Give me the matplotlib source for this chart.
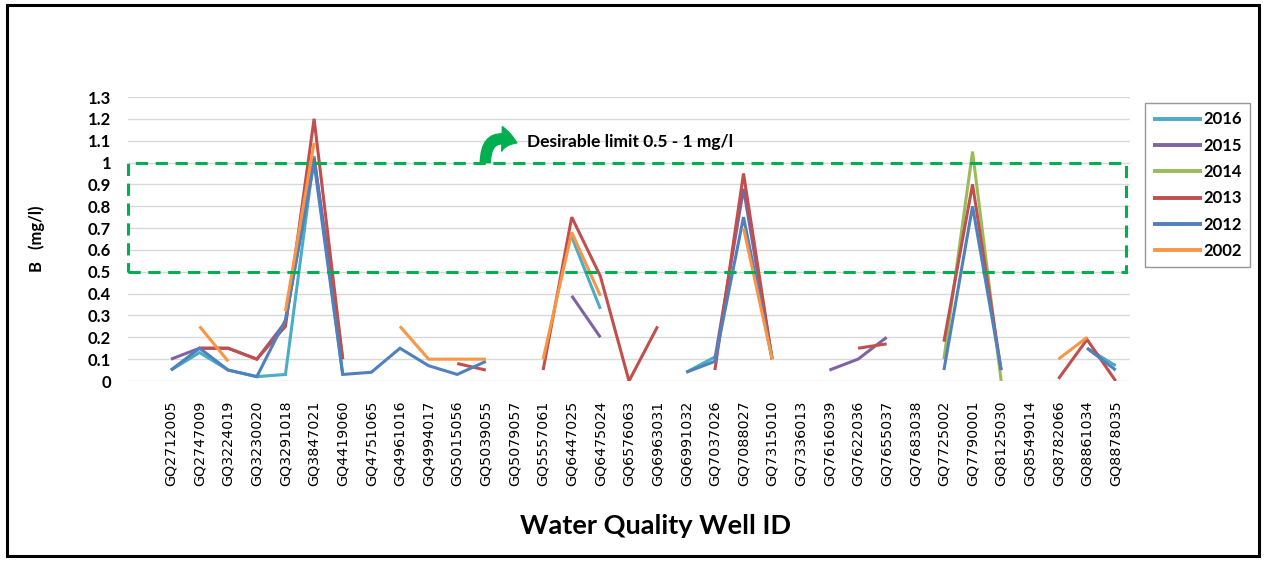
import numpy as np
import matplotlib
matplotlib.use("Agg")
import matplotlib.pyplot as plt
from matplotlib.patches import Rectangle, FancyArrowPatch

nan = np.nan

wells = ["GQ2712005", "GQ2747009", "GQ3224019", "GQ3230020", "GQ3291018",
         "GQ3847021", "GQ4419060", "GQ4751065", "GQ4961016", "GQ4994017",
         "GQ5015056", "GQ5039055", "GQ5079057", "GQ5557061", "GQ6447025",
         "GQ6475024", "GQ6576063", "GQ6963031", "GQ6991032", "GQ7037026",
         "GQ7088027", "GQ7315010", "GQ7336013", "GQ7616039", "GQ7622036",
         "GQ7655037", "GQ7683038", "GQ7725002", "GQ7790001", "GQ8125030",
         "GQ8549014", "GQ8782066", "GQ8861034", "GQ8878035"]

b_2016 = [0.05, 0.13, 0.05, 0.02, 0.03, 1.03, 0.03, nan, nan, nan,
          nan, nan, nan, nan, 0.66, 0.33, nan, nan, 0.04, 0.11,
          nan, nan, nan, nan, nan, nan, nan, nan, nan, nan,
          nan, nan, 0.15, 0.07]
b_2015 = [0.10, 0.15, 0.15, 0.10, 0.27, 1.02, 0.10, nan, nan, nan,
          nan, nan, nan, nan, 0.39, 0.20, nan, nan, nan, 0.10,
          0.88, 0.10, nan, 0.05, 0.10, 0.20, nan, nan, nan, nan,
          nan, nan, nan, nan]
b_2014 = [nan, nan, nan, nan, nan, nan, nan, nan, nan, nan,
          nan, nan, nan, nan, nan, nan, nan, nan, nan, nan,
          nan, nan, nan, nan, nan, nan, nan, 0.10, 1.05, 0.00,
          nan, nan, nan, nan]
b_2013 = [nan, 0.15, 0.15, 0.10, 0.25, 1.20, 0.10, nan, nan, nan,
          0.08, 0.05, nan, 0.05, 0.75, 0.48, 0.00, 0.25, nan, 0.05,
          0.95, 0.10, nan, nan, 0.15, 0.17, nan, 0.18, 0.90, 0.05,
          nan, 0.01, 0.19, 0.00]
b_2012 = [0.05, 0.15, 0.05, 0.02, 0.28, 1.00, 0.03, 0.04, 0.15, 0.07,
          0.03, 0.09, nan, nan, nan, nan, nan, nan, 0.04, 0.09,
          0.75, 0.10, nan, nan, nan, nan, nan, 0.05, 0.80, 0.05,
          nan, nan, 0.15, 0.05]
b_2002 = [nan, 0.25, 0.09, nan, 0.32, 1.09, nan, nan, 0.25, 0.10,
          0.10, 0.10, nan, 0.10, 0.68, 0.39, nan, nan, nan, nan,
          0.70, 0.10, nan, nan, nan, nan, nan, nan, nan, nan,
          nan, 0.10, 0.20, nan]

series = [("2016", b_2016, "#4BACC6"),
          ("2015", b_2015, "#8064A2"),
          ("2014", b_2014, "#9BBB59"),
          ("2013", b_2013, "#C0504D"),
          ("2012", b_2012, "#4F81BD"),
          ("2002", b_2002, "#F79646")]

limit_low, limit_high = 0.5, 1.0
yticks = [round(0.1 * k, 1) for k in range(14)]
ytick_labels = ["0" if v == 0 else ("1" if v == 1 else f"{v:g}") for v in yticks]

bold_font = ["Lato", "DejaVu Sans"]

fig = plt.figure(figsize=(12.68, 5.64), dpi=100)
ax = fig.add_axes([128 / 1268, 1 - 381 / 564, 1002 / 1268, 284 / 564])

x = np.arange(len(wells))
for name, vals, col in series:
    ax.plot(x, np.array(vals, dtype=float), color=col, lw=2.2, label=name,
            solid_capstyle="butt", solid_joinstyle="miter")

ax.set_xlim(-1.5, len(wells) - 0.5)
ax.set_ylim(0, 1.3)
ax.set_yticks(yticks)
ax.set_yticklabels(ytick_labels, fontfamily=bold_font, fontweight="bold",
                   fontsize=12)
ax.set_xticks(x)
ax.set_xticklabels(wells, rotation=90, fontfamily="DejaVu Sans", fontsize=10.3)
ax.tick_params(axis="both", length=0)
ax.tick_params(axis="x", pad=14)
ax.tick_params(axis="y", pad=12)
ax.grid(axis="y", color="#D9D9D9", lw=1.0)
ax.set_axisbelow(True)
for s in ax.spines.values():
    s.set_visible(False)

ax.set_ylabel("B   (mg/l)", fontfamily=bold_font, fontweight="bold", fontsize=12)
ax.yaxis.set_label_coords(-0.083, 0.5)
ax.set_xlabel("Water Quality Well ID", fontfamily=bold_font, fontweight="bold",
              fontsize=19.5)
ax.xaxis.set_label_coords(0.526, -0.47)

# desirable-limit band
ax.add_patch(Rectangle((-1.5, limit_low), 33.36 + 1.5, limit_high - limit_low,
                       fill=False, ec="#00B050", lw=2.2, ls=(0, (4, 2.5)),
                       clip_on=False, zorder=5))
ax.add_patch(FancyArrowPatch((10.98, 1.0), (12.08, 1.09),
                             connectionstyle="arc3,rad=-0.75",
                             arrowstyle="simple,head_length=0.5,head_width=0.8,tail_width=0.33",
                             mutation_scale=22, color="#00B050", clip_on=False,
                             shrinkA=0, shrinkB=0, zorder=6))
ax.text(12.43, 1.094, "Desirable limit 0.5 - 1 mg/l", fontfamily=bold_font,
        fontweight="bold", fontsize=12.5, va="center", ha="left")

leg = fig.legend(loc="upper left", bbox_to_anchor=(1145 / 1268, 1 - 103 / 564),
                 frameon=True, fancybox=False, shadow=False,
                 prop={"family": bold_font, "weight": "bold", "size": 12},
                 handlelength=2.9, handletextpad=0.1, labelspacing=0.62,
                 borderpad=0.5, borderaxespad=0)
leg.get_frame().set_edgecolor("#7F7F7F")
leg.get_frame().set_linewidth(1.0)
for ln in leg.get_lines():
    ln.set_linewidth(2.8)

# outer frame
fig.add_artist(Rectangle((7 / 1268, 1 - 556 / 564), 1252 / 1268, 551 / 564,
                         transform=fig.transFigure, fill=False, ec="black",
                         lw=2.2))

fig.savefig("out.png", dpi=100)
